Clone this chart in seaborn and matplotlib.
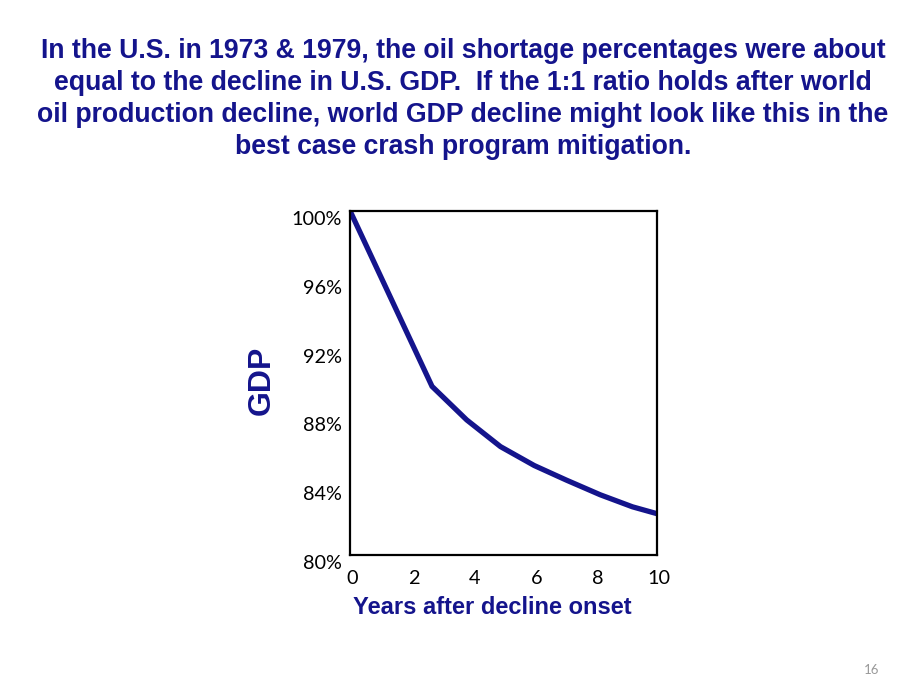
import matplotlib
matplotlib.use("Agg")
import matplotlib.pyplot as plt
import matplotlib.transforms as mtransforms
import pandas as pd
import seaborn as sns

# data
years = [0.0, 2.67, 3.8, 4.9, 6.0, 7.05, 8.15, 9.2, 10.0]
gdp = [100.0, 89.8, 87.85, 86.3, 85.2, 84.35, 83.5, 82.8, 82.4]
x_ticks = [0, 2, 4, 6, 8, 10]
y_ticks = [80, 84, 88, 92, 96, 100]

title = ("In the U.S. in 1973 & 1979, the oil shortage percentages were about\n"
         "equal to the decline in U.S. GDP.  If the 1:1 ratio holds after world\n"
         "oil production decline, world GDP decline might look like this in the\n"
         "best case crash program mitigation.")

NAVY = "#14148c"

sns.set_style("white")
plt.rcParams['font.family'] = ['Liberation Sans', 'DejaVu Sans']

df = pd.DataFrame({"year": years, "gdp": gdp})

fig = plt.figure(figsize=(9, 6.86), dpi=100)
ax = fig.add_axes([0.389, 0.191, 0.341, 0.5015])

sns.lineplot(data=df, x="year", y="gdp", ax=ax, color=NAVY, linewidth=3.8,
             solid_capstyle="butt", solid_joinstyle="miter")

ax.set_xlim(0, 10)
ax.set_ylim(80, 100)
ax.set_xticks(x_ticks)
ax.set_yticks(y_ticks)
ax.set_yticklabels([f"{v}%" for v in y_ticks])
ax.tick_params(length=0, labelsize=14.3, pad=2, labelcolor="black")
ax.tick_params(axis="x", pad=11)
for lab in ax.get_xticklabels() + ax.get_yticklabels():
    lab.set_fontfamily(['Lato', 'DejaVu Sans'])
# y labels sit a little below their ticks in the original
off = mtransforms.ScaledTranslation(-4 / 72, -5 / 72, fig.dpi_scale_trans)
for lab in ax.get_yticklabels():
    lab.set_transform(lab.get_transform() + off)
offx = mtransforms.ScaledTranslation(1.5 / 72, 0, fig.dpi_scale_trans)
for lab in ax.get_xticklabels():
    lab.set_transform(lab.get_transform() + offx)

for s in ax.spines.values():
    s.set_color("black")
    s.set_linewidth(1.6)

ax.set_xlabel("")
ax.set_ylabel("")
fig.text(492 / 900, 1 - 607 / 686, "Years after decline onset", fontsize=17,
         fontweight="bold", color=NAVY, ha="center", va="center")
fig.text(262 / 900, 1 - 380 / 686, "GDP", rotation=90, fontsize=23,
         fontweight="bold", color=NAVY, ha="center", va="center")

fig.text(463 / 900, 1 - 99 / 686, title, ha="center", va="center",
         fontsize=19.2, fontweight="bold", color=NAVY, linespacing=1.29)

fig.text(872 / 900, 1 - 670 / 686, "16", ha="center", va="center",
         fontsize=9.5, color="#999999", family=['Lato', 'DejaVu Sans'])

fig.savefig("out.png", dpi=100)
